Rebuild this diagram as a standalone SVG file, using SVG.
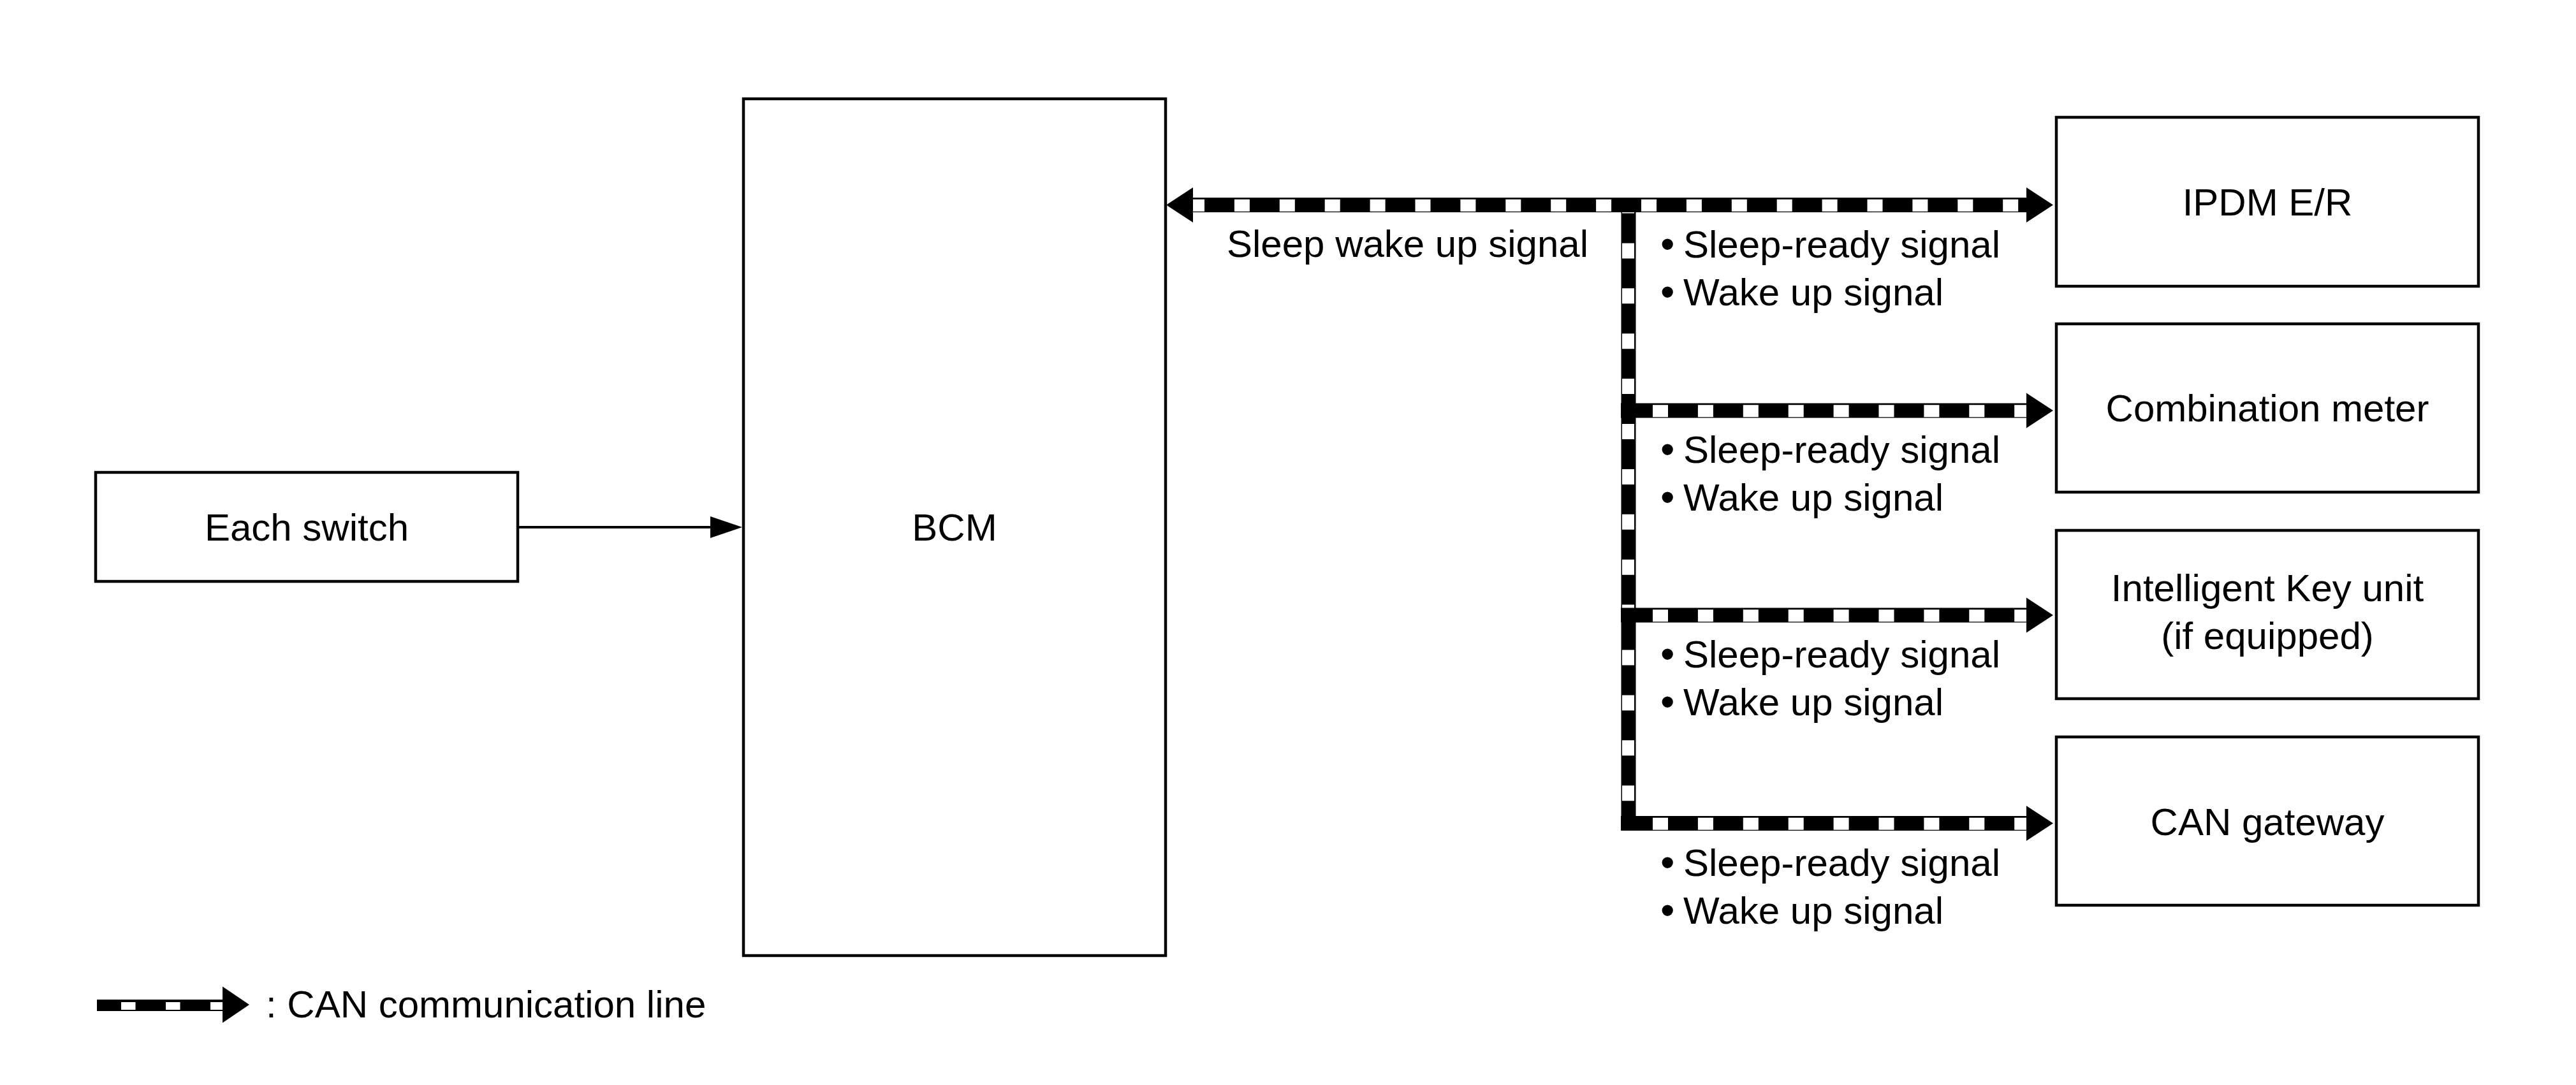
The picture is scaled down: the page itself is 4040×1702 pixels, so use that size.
<svg xmlns="http://www.w3.org/2000/svg" xmlns:xlink="http://www.w3.org/1999/xlink" width="4040" height="1702" viewBox="0 0 4040 1702">
<style>
  .box { fill: #ffffff; stroke: #000000; stroke-width: 4.5; }
  .lbl { font-family: "Liberation Sans", Arial, Helvetica, sans-serif; font-size: 60px; fill: #000000; }
  .mid { text-anchor: middle; }
  .bul { font-size: 64px; }
  .canB { stroke: #000000; stroke-width: 23; fill: none; }
  .canW { stroke: #ffffff; stroke-width: 19; fill: none; stroke-dasharray: 24 46.9; }
  .thin { stroke: #000000; stroke-width: 4; fill: none; }
</style>
<defs>
  <polygon id="headR" points="0,0 -42,-27.5 -42,27.5" fill="#000000"/>
</defs>
<rect x="0" y="0" width="4040" height="1702" fill="#ffffff"/>

<g id="connectors">
  <!-- Each switch to BCM -->
  <line class="thin" x1="812" y1="827" x2="1116" y2="827"/>
  <polygon points="1164,827 1114,810 1114,844" fill="#000000"/>

  <!-- CAN trunk -->
  <line class="canB" x1="2554" y1="321" x2="2554" y2="1303"/>
  <line class="canW" x1="2553.5" y1="310.5" x2="2553.5" y2="1280"/>

  <!-- Top CAN line BCM <-> IPDM E/R -->
  <line class="canB" x1="1866" y1="321.5" x2="3182" y2="321.5"/>
  <line class="canW" x1="1865" y1="322.3" x2="3178" y2="322.3"/>
  <use xlink:href="#headR" transform="translate(1829,321.5) scale(-1,1)"/>
  <use xlink:href="#headR" transform="translate(3220,321.5)"/>

  <!-- Branch to Combination meter -->
  <line class="canB" x1="2542" y1="644" x2="3182" y2="644"/>
  <line class="canW" x1="2592" y1="644.8" x2="3178" y2="644.8"/>
  <use xlink:href="#headR" transform="translate(3220,644)"/>

  <!-- Branch to Intelligent Key unit -->
  <line class="canB" x1="2542" y1="965" x2="3182" y2="965"/>
  <line class="canW" x1="2592" y1="965.8" x2="3178" y2="965.8"/>
  <use xlink:href="#headR" transform="translate(3220,965)"/>

  <!-- Branch to CAN gateway -->
  <line class="canB" x1="2542" y1="1291.5" x2="3182" y2="1291.5"/>
  <line class="canW" x1="2592" y1="1292.3" x2="3178" y2="1292.3"/>
  <use xlink:href="#headR" transform="translate(3220,1291.5)"/>

  <!-- Connector labels -->
  <text class="lbl" x="1924" y="403">Sleep wake up signal</text>

  <text class="lbl" y="403.5"><tspan class="bul" x="2604" dy="1">•</tspan><tspan x="2640" dy="-1">Sleep-ready signal</tspan></text>
  <text class="lbl" y="478.5"><tspan class="bul" x="2604" dy="1">•</tspan><tspan x="2640" dy="-1">Wake up signal</tspan></text>

  <text class="lbl" y="726"><tspan class="bul" x="2604" dy="1">•</tspan><tspan x="2640" dy="-1">Sleep-ready signal</tspan></text>
  <text class="lbl" y="801"><tspan class="bul" x="2604" dy="1">•</tspan><tspan x="2640" dy="-1">Wake up signal</tspan></text>

  <text class="lbl" y="1047"><tspan class="bul" x="2604" dy="1">•</tspan><tspan x="2640" dy="-1">Sleep-ready signal</tspan></text>
  <text class="lbl" y="1122"><tspan class="bul" x="2604" dy="1">•</tspan><tspan x="2640" dy="-1">Wake up signal</tspan></text>

  <text class="lbl" y="1373.5"><tspan class="bul" x="2604" dy="1">•</tspan><tspan x="2640" dy="-1">Sleep-ready signal</tspan></text>
  <text class="lbl" y="1448.5"><tspan class="bul" x="2604" dy="1">•</tspan><tspan x="2640" dy="-1">Wake up signal</tspan></text>
</g>

<g id="node-each-switch">
  <rect class="box" x="150" y="741" width="662" height="171"/>
  <text class="lbl mid" x="481" y="848">Each switch</text>
</g>

<g id="node-bcm">
  <rect class="box" x="1166" y="155" width="662" height="1344"/>
  <text class="lbl mid" x="1497" y="848">BCM</text>
</g>

<g id="node-ipdm">
  <rect class="box" x="3225" y="184" width="662" height="265"/>
  <text class="lbl mid" x="3556" y="338">IPDM E/R</text>
</g>

<g id="node-combination-meter">
  <rect class="box" x="3225" y="508" width="662" height="264"/>
  <text class="lbl mid" x="3556" y="661">Combination meter</text>
</g>

<g id="node-intelligent-key">
  <rect class="box" x="3225" y="832" width="662" height="264"/>
  <text class="lbl mid" x="3556" y="943">Intelligent Key unit</text>
  <text class="lbl mid" x="3556" y="1018">(if equipped)</text>
</g>

<g id="node-can-gateway">
  <rect class="box" x="3225" y="1156" width="662" height="264"/>
  <text class="lbl mid" x="3556" y="1310">CAN gateway</text>
</g>

<g id="legend">
  <line x1="152" y1="1577" x2="352" y2="1577" stroke="#000000" stroke-width="18"/>
  <line x1="190" y1="1578" x2="349" y2="1578" stroke="#ffffff" stroke-width="12" stroke-dasharray="22.5 47.5"/>
  <polygon points="391,1576 349,1547.5 349,1604.5" fill="#000000"/>
  <text class="lbl" x="417" y="1596">: CAN communication line</text>
</g>
</svg>
